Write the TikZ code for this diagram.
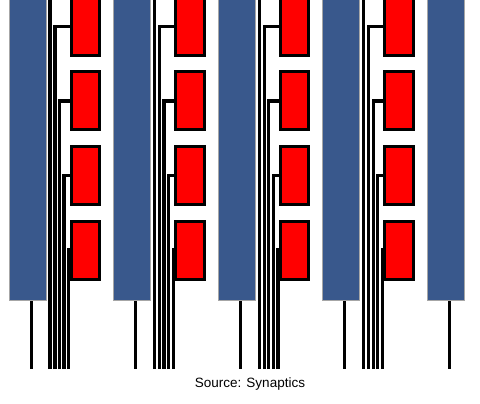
\documentclass[tikz,border=0pt]{standalone}
\usepackage{fontspec}
\setmainfont{Liberation Sans}
\definecolor{colblue}{RGB}{57,88,140}
\definecolor{colred}{RGB}{255,0,0}
\tikzset{
  bluecol/.style={draw=gray!70, line width=0.8pt, fill=colblue, inner sep=0pt, minimum width=37pt, minimum height=305pt},
  redbox/.style={draw=black, line width=3pt, fill=colred, inner sep=0pt, minimum width=28.5pt, minimum height=58pt},
  wire/.style={draw=black, line width=3.3pt, line join=miter},
  lead/.style={draw=black, line width=3pt}
}
\begin{document}
\begin{tikzpicture}[x=1pt,y=-1pt]
\useasboundingbox (0,0) rectangle (480,404);
\clip (0,0) rectangle (480,404);
\fill[white] (0,0) rectangle (480,404);
% blue columns and their leads
\foreach \k in {0,...,4}{
  \pgfmathsetmacro{\xo}{8.5+104.6*\k}
  \node[bluecol, anchor=south west] (b\k) at (\xo,301) {};
  \coordinate (l\k) at (\xo+22.5,369);
  \draw[lead] (b\k.south -| l\k) -- (l\k);
}
% red boxes and wires
\foreach \k in {0,...,3}{
  \pgfmathsetmacro{\xo}{8.5+104.6*\k}
  \foreach \i in {0,...,3}{
    \node[redbox, anchor=north west] (r\k-\i) at (\xo+61,-4+74.5*\i) {};
  }
  \coordinate (w\k-0) at (\xo+41.5,369);
  \coordinate (t\k) at (\xo+41.5,-5);
  \draw[wire] (w\k-0) -- (t\k);
  \foreach \j/\x in {1/46.5,2/51,3/55.5,4/60.3}{
    \pgfmathtruncatemacro{\i}{\j-1}
    \coordinate (w\k-\j) at (\xo+\x,369);
    \draw[wire] (w\k-\j) |- (r\k-\i.west);
  }
}
\node[font=\fontsize{13.5}{15}\selectfont] (src) at (250,384.5) {Source: Synaptics};
\end{tikzpicture}
\end{document}
